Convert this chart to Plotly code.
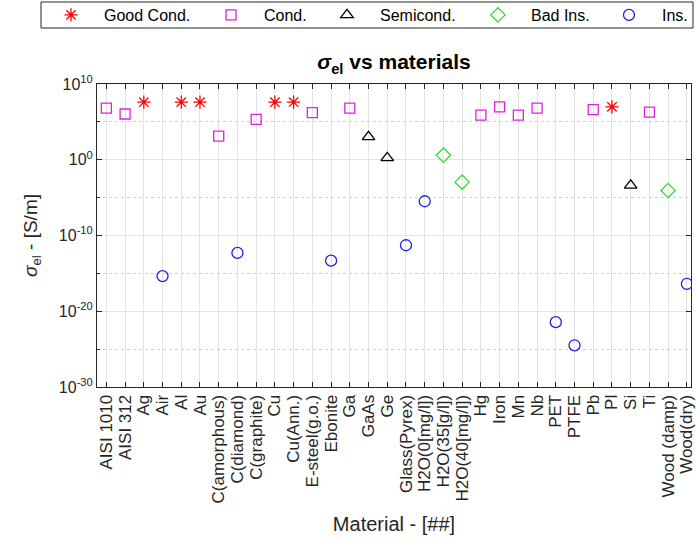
import plotly.graph_objects as go

materials = ["AISI 1010", "AISI 312", "Ag", "Air", "Al", "Au", "C(amorphous)", "C(diamond)",
             "C(graphite)", "Cu", "Cu(Ann.)", "E-steel(g.o.)", "Ebonite", "Ga", "GaAs", "Ge",
             "Glass(Pyrex)", "H2O(0[mg/l])", "H2O(35[g/l])", "H2O(40[mg/l])", "Hg", "Iron", "Mn",
             "Nb", "PET", "PTFE", "Pb", "Pl", "Si", "Ti", "Wood (damp)", "Wood(dry)"]

sigma = [6.5e6, 1.1e6, 4.0e7, 4.4e-16, 4.0e7, 4.0e7, 1.35e3, 5.0e-13,
         2.2e5, 4.0e7, 4.0e7, 1.7e6, 4.8e-14, 6.5e6, 1.07e3, 1.74,
         5.2e-12, 3.3e-6, 4.0, 1.1e-3, 7.6e5, 9.5e6, 7.6e5,
         6.5e6, 3.6e-22, 3.2e-25, 4.2e6, 9.5e6, 4.1e-4, 1.9e6, 8.7e-5, 4.2e-17]

classes = ["Cond.", "Cond.", "Good Cond.", "Ins.", "Good Cond.", "Good Cond.", "Cond.", "Ins.",
           "Cond.", "Good Cond.", "Good Cond.", "Cond.", "Ins.", "Cond.", "Semicond.", "Semicond.",
           "Ins.", "Ins.", "Bad Ins.", "Bad Ins.", "Cond.", "Cond.", "Cond.",
           "Cond.", "Ins.", "Ins.", "Cond.", "Good Cond.", "Semicond.", "Cond.", "Bad Ins.", "Ins."]

class_order = ["Good Cond.", "Cond.", "Semicond.", "Bad Ins.", "Ins."]
class_symbol = {"Good Cond.": "asterisk-open", "Cond.": "square-open", "Semicond.": "triangle-up-open",
                "Bad Ins.": "diamond-open", "Ins.": "circle-open"}
class_color = {"Good Cond.": "#ff0000", "Cond.": "#e020e0", "Semicond.": "#000000",
               "Bad Ins.": "#33dd33", "Ins.": "#2020e0"}
class_size = {"Good Cond.": 11, "Cond.": 10, "Semicond.": 11, "Bad Ins.": 11, "Ins.": 11}
# legend symbol x-position (pixels) for each class entry
legend_sym_px = {"Good Cond.": 73, "Cond.": 233, "Semicond.": 349, "Bad Ins.": 500, "Ins.": 631}

ytick_exp = [-30, -20, -10, 0, 10]
yminor_exp = [-25, -15, -5, 5]

idx = list(range(1, len(materials) + 1))

W, H = 696, 548
ML, MR, MT, MB = 97, 5, 84, 161
axis_color = "#262626"
font_family = "Liberation Sans, Arial, sans-serif"
ITEMW = 56

fig = go.Figure()
legend_layouts = {}
for n, c in enumerate(class_order):
    xs = [i for i, k in zip(idx, classes) if k == c]
    ys = [s for s, k in zip(sigma, classes) if k == c]
    lname = "legend" if n == 0 else "legend%d" % (n + 1)
    fig.add_trace(go.Scatter(
        x=xs, y=ys, mode="markers", name=c, legend=lname,
        marker=dict(symbol=class_symbol[c], size=class_size[c], color=class_color[c],
                    line=dict(color=class_color[c], width=1.3)),
    ))
    legend_layouts[lname] = dict(
        orientation="h", xref="container", yref="container",
        x=(legend_sym_px[c] - (ITEMW / 2 + 7)) / W, y=1 - 15 / H,
        xanchor="left", yanchor="middle", itemwidth=ITEMW,
        bgcolor="rgba(0,0,0,0)", borderwidth=0,
        font=dict(size=16, color="#000000"),
    )

# invisible trace on overlay axis for minor dotted grid
fig.add_trace(go.Scatter(x=[idx[0]], y=[sigma[0]], yaxis="y2", mode="markers",
                         marker=dict(opacity=0), showlegend=False, hoverinfo="skip"))

fig.update_layout(
    width=W, height=H,
    margin=dict(l=ML, r=MR, t=MT, b=MB, autoexpand=False),
    paper_bgcolor="white", plot_bgcolor="white",
    font=dict(family=font_family, color=axis_color, size=13),
    title=dict(text="<b><i>σ</i><sub>el</sub> vs materials</b>", x=0.5, xref="paper",
               y=1 - 62 / H, yref="container", yanchor="middle", xanchor="center",
               font=dict(size=21, color="#000000")),
    xaxis=dict(
        range=[0.5, 32.22], tickmode="array", tickvals=idx, ticktext=materials,
        tickangle=-90, tickfont=dict(size=17, color=axis_color),
        ticklabeloverflow="allow", automargin=False,
        showgrid=True, gridcolor="#e3e3e3", gridwidth=1,
        ticks="inside", ticklen=5, tickcolor=axis_color,
        showline=True, linecolor=axis_color, linewidth=1, mirror="ticks",
        zeroline=False,
        title=dict(text="Material - [##]", font=dict(size=20, color=axis_color), standoff=14),
    ),
    yaxis=dict(
        type="log", range=[-30, 10], tickmode="array",
        tickvals=[10.0 ** e for e in ytick_exp],
        ticktext=["10<sup>%d</sup>" % e for e in ytick_exp],
        tickfont=dict(size=16, color=axis_color), automargin=False,
        showgrid=True, gridcolor="#e3e3e3", gridwidth=1,
        ticks="inside", ticklen=5, tickcolor=axis_color,
        showline=True, linecolor=axis_color, linewidth=1, mirror="ticks",
        zeroline=False,
        title=dict(text="<i>σ</i><sub>el</sub> - [S/m]", font=dict(size=19, color=axis_color), standoff=16),
    ),
    yaxis2=dict(
        type="log", range=[-30, 10], overlaying="y", side="left", tickmode="array",
        tickvals=[10.0 ** e for e in yminor_exp], showticklabels=False, automargin=False,
        showgrid=True, gridcolor="#d0d0d0", griddash="dot", gridwidth=1,
        ticks="inside", ticklen=3, tickcolor=axis_color, showline=False, zeroline=False,
    ),
    **legend_layouts,
)

# legend frame
PW, PH = W - ML - MR, H - MT - MB
fig.add_shape(type="rect", xref="paper", yref="paper",
              x0=(41 - ML) / PW, x1=(693 - ML) / PW,
              y0=(H - MB - 28) / PH, y1=(H - MB - 2) / PH,
              line=dict(color="#262626", width=1), fillcolor="white", layer="below")

fig.write_html("out.html")
